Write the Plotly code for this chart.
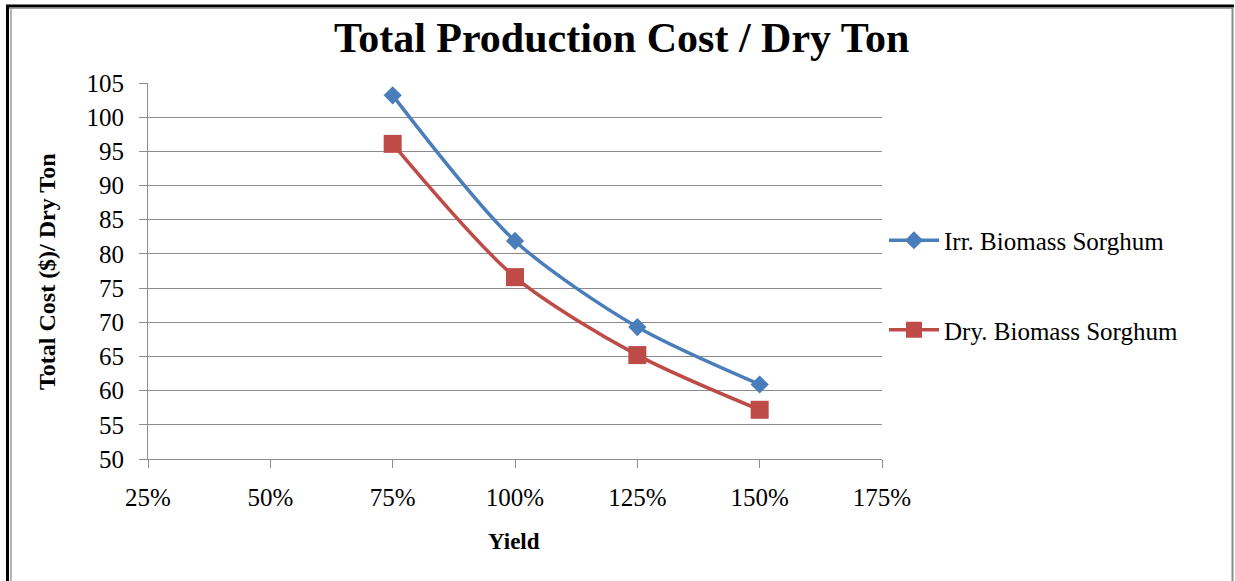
import plotly.graph_objects as go

# ---- data ----
yield_pct = [75, 100, 125, 150]
irr_cost = [103.2, 81.9, 69.3, 60.9]
dry_cost = [96.1, 76.6, 65.2, 57.2]
series_names = ["Irr. Biomass Sorghum", "Dry. Biomass Sorghum"]
x_ticks = [25, 50, 75, 100, 125, 150, 175]
x_tick_labels = ["25%", "50%", "75%", "100%", "125%", "150%", "175%"]
y_ticks = list(range(50, 106, 5))

W, H = 1235, 581
L, R, T, B = 148, 882, 83, 459  # plot area pixels

def px(x):
    return (x - L) / (R - L)

def py(y):
    return (B - y) / (B - T)

BLUE = "#4A7EBB"
RED = "#BE4B48"
GRID = "#8C8C8C"
TIMES = "Liberation Serif"

fig = go.Figure()
fig.add_trace(go.Scatter(
    x=yield_pct, y=irr_cost, name=series_names[0], legendgroup="a",
    mode="lines+markers", line=dict(color=BLUE, width=3.5, shape="spline", smoothing=0.8),
    marker=dict(symbol="diamond", size=14, color=BLUE)))
fig.add_trace(go.Scatter(
    x=yield_pct, y=dry_cost, name=series_names[1], legendgroup="b",
    mode="lines+markers", line=dict(color=RED, width=3.5, shape="spline", smoothing=0.8),
    marker=dict(symbol="square", size=18, color=RED)))

shapes = [
    # outer frame
    dict(type="line", xref="paper", yref="paper", x0=px(6), x1=px(1234), y0=py(6), y1=py(6),
         line=dict(color="black", width=3)),
    dict(type="line", xref="paper", yref="paper", x0=px(7), x1=px(1232), y0=py(8.5), y1=py(8.5),
         line=dict(color="#A0A0A0", width=1)),
    dict(type="line", xref="paper", yref="paper", x0=px(7.5), x1=px(7.5), y0=py(5), y1=py(590),
         line=dict(color="black", width=3)),
    dict(type="line", xref="paper", yref="paper", x0=px(11), x1=px(11), y0=py(8), y1=py(590),
         line=dict(color="#9A9A9A", width=1.5)),
    dict(type="line", xref="paper", yref="paper", x0=px(1232.5), x1=px(1232.5), y0=py(7), y1=py(590),
         line=dict(color="#8A8A8A", width=2)),
]

annotations = [
    dict(text="<b>Total Production Cost / Dry Ton</b>", xref="paper", yref="paper",
         x=px(621), y=py(38), xanchor="center", yanchor="middle", showarrow=False,
         font=dict(family=TIMES, size=42, color="black")),
    dict(text="<b>Yield</b>", xref="paper", yref="paper",
         x=px(514), y=py(541), xanchor="center", yanchor="middle", showarrow=False,
         font=dict(family=TIMES, size=23, color="black")),
    dict(text="<b>Total Cost ($)/ Dry Ton</b>", xref="paper", yref="paper",
         x=px(47), y=py(272), xanchor="center", yanchor="middle", showarrow=False, textangle=-90,
         font=dict(family=TIMES, size=24, color="black")),
]

fig.update_layout(
    width=W, height=H,
    margin=dict(l=L, r=W - R, t=T, b=H - B, pad=0),
    paper_bgcolor="white", plot_bgcolor="white",
    shapes=shapes, annotations=annotations,
    showlegend=True,
    legend=dict(x=px(884), y=py(285), xanchor="left", yanchor="middle",
                font=dict(family=TIMES, size=25, color="black"),
                tracegroupgap=54, bgcolor="rgba(0,0,0,0)", itemwidth=50),
)
fig.update_xaxes(
    range=[25, 175], tickvals=x_ticks, ticktext=x_tick_labels,
    showgrid=False, zeroline=False,
    showline=True, linecolor=GRID, linewidth=1,
    ticks="outside", ticklen=8, tickcolor=GRID, tickwidth=1,
    ticklabelstandoff=8,
    tickfont=dict(family=TIMES, size=25, color="black"),
)
fig.update_yaxes(
    range=[50, 105], tickvals=y_ticks,
    showgrid=True, gridcolor=GRID, gridwidth=1, zeroline=False,
    showline=True, linecolor=GRID, linewidth=1,
    ticks="outside", ticklen=8, tickcolor=GRID, tickwidth=1,
    ticklabelstandoff=10,
    tickfont=dict(family=TIMES, size=25, color="black"),
)

fig.write_html("out.html")
